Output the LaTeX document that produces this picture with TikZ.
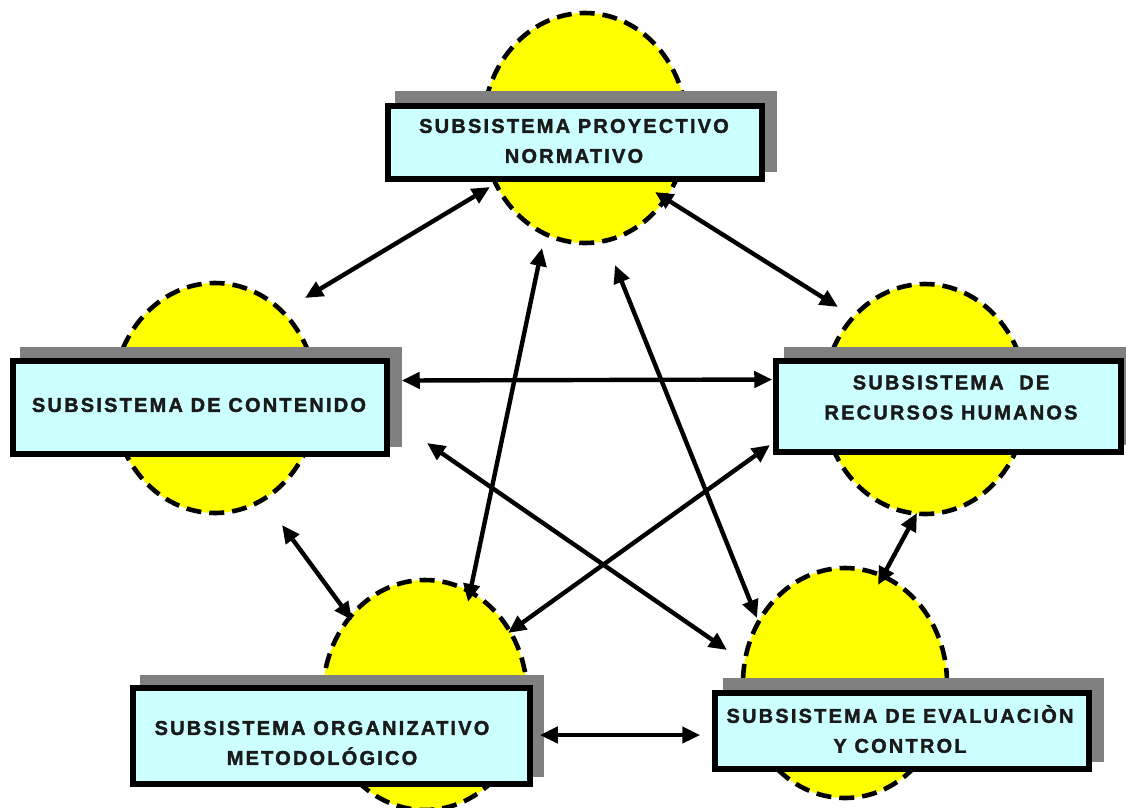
\documentclass[tikz,border=0pt]{standalone}
\usepackage{fontspec}
\setmainfont{Liberation Sans}
\newfontfamily\lblfont{Liberation Sans}[LetterSpace=11,FakeBold=1.8]
\usetikzlibrary{calc,arrows.meta,shapes.geometric}
\definecolor{boxfill}{HTML}{CCFFFF}
\definecolor{shadowgray}{HTML}{808080}
\definecolor{ovalfill}{HTML}{FFFF00}
\definecolor{txt}{HTML}{1A1A1A}
\begin{document}
\begin{tikzpicture}[x=1pt,y=-1pt,
  oval/.style={ellipse, draw=black, fill=ovalfill, line width=4.6pt,
    dash pattern=on 15pt off 8pt, minimum width=204pt, minimum height=230pt, inner sep=0pt},
  boxnode/.style={rectangle, draw=black, fill=boxfill, line width=5.5pt, inner sep=0pt},
  shadownode/.style={rectangle, fill=shadowgray, inner sep=0pt},
  lbl/.style={font={\lblfont\bfseries\fontsize{20}{30}\selectfont}, text=txt, align=center, inner sep=0pt},
  conn/.style={line width=4.4pt, {Triangle[length=18pt,width=16pt]}-{Triangle[length=18pt,width=16pt]}}
]
\useasboundingbox (0,0) rectangle (1126,807);

% ovals
\node[oval] (eT) at (585,128) {};
\node[oval] (eL) at (215,398) {};
\node[oval] (eR) at (925,399) {};
\node[oval] (eBL) at (425,695) {};
\node[oval] (eBR) at (845,683) {};

% shadows
\node[shadownode, minimum width=382pt, minimum height=81pt] (sT) at (586,131.5) {};
\node[shadownode, minimum width=382pt, minimum height=100pt] (sL) at (211,397) {};
\node[shadownode, minimum width=352pt, minimum height=98pt] (sR) at (959.5,395.5) {};
\node[shadownode, minimum width=404pt, minimum height=102pt] (sBL) at (342,725.5) {};
\node[shadownode, minimum width=381pt, minimum height=84pt] (sBR) at (913,720) {};

% boxes
\node[boxnode, minimum width=374pt, minimum height=73pt] (bT) at (575,142.5) {};
\node[boxnode, minimum width=374pt, minimum height=93pt] (bL) at (200,407.5) {};
\node[boxnode, minimum width=345pt, minimum height=91pt] (bR) at (948.5,406.5) {};
\node[boxnode, minimum width=397pt, minimum height=96pt] (bBL) at (331.5,736) {};
\node[boxnode, minimum width=374pt, minimum height=76pt] (bBR) at (902,731) {};

% labels
\node[lbl] (tT) at (574,141) {SUBSISTEMA PROYECTIVO\\NORMATIVO};
\node[lbl] (tL) at (199,405) {SUBSISTEMA DE CONTENIDO};
\node[lbl] (tR) at (951,397.5) {SUBSISTEMA\ \ DE\\RECURSOS HUMANOS};
\node[lbl] (tBL) at (322,743) {SUBSISTEMA ORGANIZATIVO\\METODOLÓGICO};
\node[lbl] (tBR) at (900,729) {SUBSISTEMA DE EVALUACIÒN\\Y CONTROL};

% connectors
\draw[conn] ($(eT.center)+(-95,59)$) -- ($(eL.center)+(90,-100)$);
\draw[conn] ($(eT.center)+(70,64)$) -- ($(eR.center)+(-87,-92)$);
\draw[conn] ($(bL.east)+(12,-27)$) -- ($(bR.west)+(-1,-27)$);
\draw[conn] ($(eT.center)+(-43,120)$) -- ($(eBL.center)+(43,-93)$);
\draw[conn] ($(eT.center)+(30,137)$) -- ($(eBR.center)+(-88,-65)$);
\draw[conn] ($(eL.center)+(212,45)$) -- ($(eBR.center)+(-118,-33)$);
\draw[conn] ($(eR.center)+(-155,46)$) -- ($(eBL.center)+(83,-62)$);
\draw[conn] ($(eL.center)+(67,127)$) -- ($(eBL.center)+(-73,-75)$);
\draw[conn] ($(eR.center)+(-8,114)$) -- ($(eBR.center)+(33,-98)$);
\draw[conn] ($(bBL.east)+(7,-1)$) -- ($(bBR.west)+(-12,4)$);
\end{tikzpicture}
\end{document}
